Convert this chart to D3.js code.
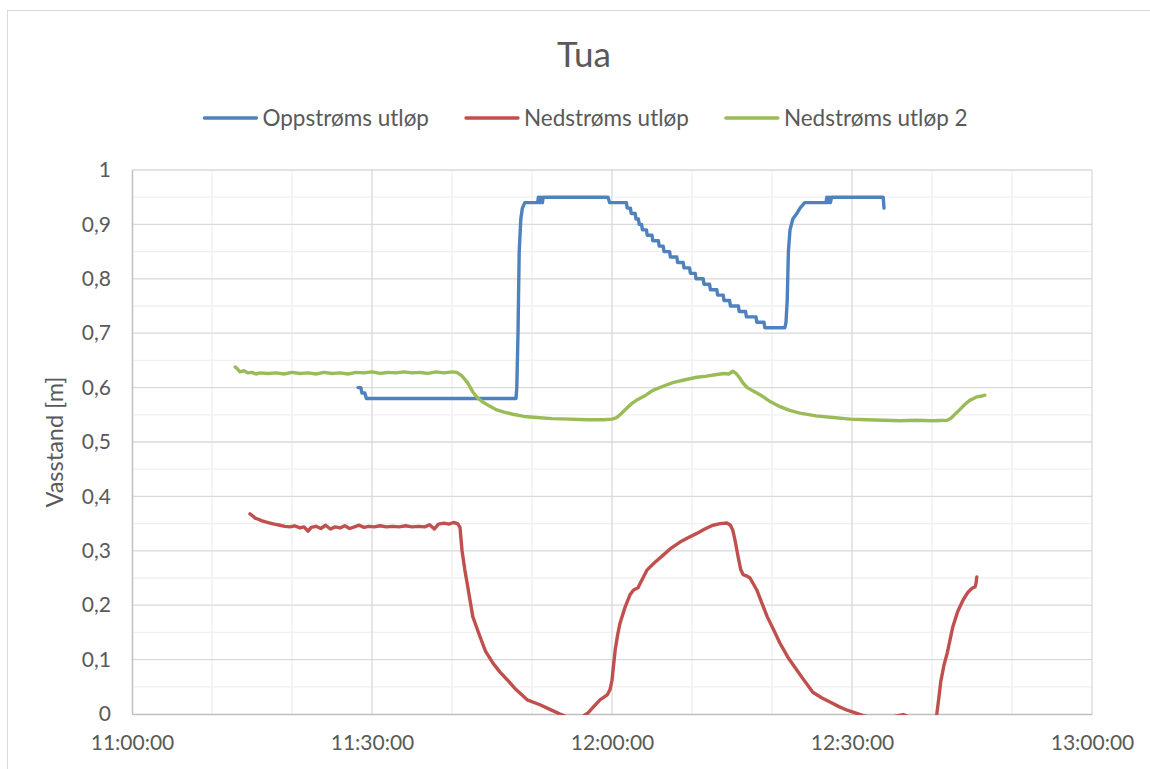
<!DOCTYPE html>
<html lang="no">
<head>
    <meta charset="UTF-8">
    <title>Tua</title>
    <script src="https://d3js.org/d3.v7.min.js"></script>
    <style>
        body {
            margin: 0;
            background: #fff;
        }
        svg text {
            font-family: Lato, "Open Sans", sans-serif;
            fill: #595959;
        }
        .tick text {
            font-size: 21px;
        }
        .legend text {
            font-size: 22.5px;
        }
    </style>
</head>
<body>
    <svg width="1150" height="769"></svg>
    <script>
        // Series: [minutes after 11:00:00, water level in m]
        const oppstroms = [
            [28.25, 0.60], [28.6, 0.60], [28.75, 0.59], [29.1, 0.59], [29.3, 0.58],
            [48.0, 0.58], [48.1, 0.60], [48.25, 0.70], [48.4, 0.85], [48.6, 0.91], [48.8, 0.93], [49.1, 0.94],
            [50.7, 0.94], [50.8, 0.95], [51.0, 0.94], [51.1, 0.95], [51.3, 0.94], [51.4, 0.95],
            [59.5, 0.95], [59.7, 0.94],
            [61.8, 0.94], [61.9, 0.93], [62.3, 0.93], [62.4, 0.92], [62.9, 0.92], [63.0, 0.91],
            [63.3, 0.91], [63.4, 0.90], [63.7, 0.90], [63.8, 0.89], [64.3, 0.89], [64.4, 0.88],
            [65.0, 0.88], [65.1, 0.87], [65.8, 0.87], [65.9, 0.86], [66.4, 0.86], [66.5, 0.85],
            [67.2, 0.85], [67.3, 0.84], [68.1, 0.84], [68.2, 0.83], [68.9, 0.83], [69.0, 0.82],
            [69.7, 0.82], [69.8, 0.81], [70.4, 0.81], [70.5, 0.80], [71.4, 0.80], [71.5, 0.79],
            [72.2, 0.79], [72.3, 0.78], [73.1, 0.78], [73.2, 0.77], [73.9, 0.77], [74.0, 0.76],
            [74.7, 0.76], [74.8, 0.75], [75.8, 0.75], [75.9, 0.74], [76.7, 0.74], [76.8, 0.73],
            [78.0, 0.73], [78.1, 0.72], [79.0, 0.72], [79.1, 0.71],
            [81.6, 0.71], [81.75, 0.72], [81.9, 0.76], [82.05, 0.85], [82.25, 0.89], [82.6, 0.91],
            [83.1, 0.92], [83.5, 0.93], [84.1, 0.94],
            [86.75, 0.94], [86.85, 0.95], [87.0, 0.94], [87.15, 0.95], [87.3, 0.94], [87.45, 0.95],
            [93.9, 0.95], [94.0, 0.93]
        ];

        const nedstroms = [
            [14.75, 0.368], [15.1, 0.364], [15.4, 0.360], [15.8, 0.358], [16.25, 0.355], [16.7, 0.353],
            [17.25, 0.351], [17.8, 0.349], [18.5, 0.347], [19.1, 0.345], [19.75, 0.344], [20.3, 0.346],
            [21.0, 0.342], [21.5, 0.344], [22.0, 0.336], [22.4, 0.343], [23.0, 0.345], [23.6, 0.341],
            [24.2, 0.347], [24.8, 0.340], [25.4, 0.344], [26.0, 0.342], [26.6, 0.346], [27.2, 0.341],
            [27.8, 0.344], [28.4, 0.347], [29.0, 0.343], [29.6, 0.345], [30.3, 0.344], [31.0, 0.346],
            [31.8, 0.344], [32.6, 0.345], [33.4, 0.344], [34.2, 0.346], [35.0, 0.344], [35.8, 0.345],
            [36.6, 0.344], [37.2, 0.348], [37.8, 0.340], [38.3, 0.349], [39.0, 0.351], [39.6, 0.349],
            [40.2, 0.352], [40.7, 0.350], [41.0, 0.343], [41.25, 0.301], [41.6, 0.265], [41.9, 0.240],
            [42.6, 0.179], [43.5, 0.142], [44.2, 0.115], [45.1, 0.094], [46.0, 0.077], [46.9, 0.063],
            [48.0, 0.045], [49.4, 0.026], [51.0, 0.017], [52.3, 0.008], [53.5, 0.0], [54.8, -0.008],
            [55.6, -0.010], [56.4, -0.004], [57.0, 0.002], [57.8, 0.015], [58.5, 0.026], [59.4, 0.035],
            [59.75, 0.045], [60.0, 0.062], [60.2, 0.090], [60.4, 0.118], [60.7, 0.145], [61.0, 0.167],
            [61.6, 0.195], [62.25, 0.219], [62.7, 0.228], [63.25, 0.232], [63.8, 0.248], [64.4, 0.265],
            [65.3, 0.278], [66.4, 0.292], [67.4, 0.305], [68.5, 0.316], [69.5, 0.324], [70.6, 0.332],
            [71.6, 0.340], [72.6, 0.347], [73.5, 0.350], [74.4, 0.351], [74.8, 0.347], [75.1, 0.338],
            [75.4, 0.318], [75.75, 0.290], [76.1, 0.265], [76.4, 0.256], [76.8, 0.254], [77.25, 0.250],
            [78.1, 0.228], [78.7, 0.205], [79.4, 0.179], [80.2, 0.155], [81.0, 0.130], [82.0, 0.104],
            [83.1, 0.081], [84.1, 0.060], [85.1, 0.040], [86.2, 0.030], [87.25, 0.022], [88.3, 0.014],
            [89.4, 0.007], [90.4, 0.002], [91.4, -0.003], [93.5, -0.010], [95.2, -0.005], [96.4, -0.001],
            [97.5, -0.008], [98.5, -0.020], [99.8, -0.030], [100.3, -0.020], [100.6, 0.0], [100.9, 0.035],
            [101.1, 0.060], [101.5, 0.090], [101.9, 0.112], [102.6, 0.160], [103.2, 0.188], [103.9, 0.210],
            [104.5, 0.224], [105.0, 0.231], [105.4, 0.234], [105.5, 0.240], [105.6, 0.252]
        ];

        const nedstroms2 = [
            [12.9, 0.638], [13.2, 0.634], [13.5, 0.629], [14.0, 0.631], [14.5, 0.627], [15.0, 0.628],
            [15.5, 0.625], [16.0, 0.627], [17.0, 0.626], [18.0, 0.627], [19.0, 0.625], [20.0, 0.628],
            [21.0, 0.626], [22.0, 0.627], [23.0, 0.625], [24.0, 0.628], [25.0, 0.626], [26.0, 0.627],
            [27.0, 0.625], [28.0, 0.628], [29.0, 0.627], [30.0, 0.629], [31.0, 0.626], [32.0, 0.628],
            [33.0, 0.627], [34.0, 0.629], [35.0, 0.627], [36.0, 0.628], [37.0, 0.626], [38.0, 0.629],
            [39.0, 0.627], [40.0, 0.629], [40.6, 0.628], [41.2, 0.622], [41.9, 0.610], [42.6, 0.592],
            [43.2, 0.581], [43.9, 0.573], [44.7, 0.566], [45.6, 0.559], [46.5, 0.555], [47.6, 0.551],
            [49.0, 0.547], [50.6, 0.545], [52.5, 0.543], [54.7, 0.542], [57.0, 0.541], [59.0, 0.541],
            [60.0, 0.542], [60.6, 0.545], [61.2, 0.553], [61.9, 0.563], [62.5, 0.571], [63.1, 0.577],
            [64.0, 0.584], [65.1, 0.595], [66.3, 0.602], [67.6, 0.609], [69.0, 0.614], [70.6, 0.619],
            [71.8, 0.621], [73.1, 0.624], [74.0, 0.626], [74.6, 0.625], [75.1, 0.630], [75.5, 0.626],
            [75.9, 0.619], [76.4, 0.608], [76.9, 0.600], [77.6, 0.594], [78.5, 0.587], [79.6, 0.576],
            [81.0, 0.565], [82.2, 0.558], [83.5, 0.553], [85.5, 0.548], [87.6, 0.545], [89.8, 0.542],
            [91.9, 0.541], [94.0, 0.540], [96.0, 0.539], [98.0, 0.540], [100.0, 0.539], [101.9, 0.540],
            [102.3, 0.543], [102.6, 0.547], [103.0, 0.553], [103.5, 0.560], [104.1, 0.569], [104.75, 0.577],
            [105.2, 0.580], [105.6, 0.583], [106.1, 0.584], [106.6, 0.586]
        ];

        const seriesNames = ["Oppstrøms utløp", "Nedstrøms utløp", "Nedstrøms utløp 2"];
        const seriesColors = ["#4f81bd", "#c0504d", "#9bbb59"];

        const xTickMinutes = [0, 30, 60, 90, 120];
        const xTickLabels = ["11:00:00", "11:30:00", "12:00:00", "12:30:00", "13:00:00"];
        const xMinorMinutes = [10, 20, 40, 50, 70, 80, 100, 110];
        const yTicks = [0, 0.1, 0.2, 0.3, 0.4, 0.5, 0.6, 0.7, 0.8, 0.9, 1];
        const yTickLabels = ["0", "0,1", "0,2", "0,3", "0,4", "0,5", "0,6", "0,7", "0,8", "0,9", "1"];
        const yMinor = [0.05, 0.15, 0.25, 0.35, 0.45, 0.55, 0.65, 0.75, 0.85, 0.95];

        const margin = {top: 170, right: 58, bottom: 55, left: 132},
              width = 1150 - margin.left - margin.right,
              height = 769 - margin.top - margin.bottom;

        const start = new Date(2017, 0, 1, 11, 0, 0);
        const toDate = m => new Date(start.getTime() + m * 60000);

        const svg = d3.select("svg");

        // chart area border
        svg.append("rect")
           .attr("x", 7.5).attr("y", 10.5)
           .attr("width", 1160).attr("height", 780)
           .attr("fill", "none")
           .attr("stroke", "#d9d9d9");

        const g = svg.append("g")
                     .attr("transform", `translate(${margin.left},${margin.top})`);

        const x = d3.scaleTime()
                    .domain([toDate(0), toDate(120)])
                    .range([0, width]);

        const y = d3.scaleLinear()
                    .domain([0, 1])
                    .range([height, 0]);

        // minor grid
        g.selectAll(".xminor").data(xMinorMinutes).enter().append("line")
         .attr("x1", d => x(toDate(d))).attr("x2", d => x(toDate(d)))
         .attr("y1", 0).attr("y2", height)
         .attr("stroke", "#f0f0f0").attr("stroke-width", 1.3);
        g.selectAll(".yminor").data(yMinor).enter().append("line")
         .attr("x1", 0).attr("x2", width)
         .attr("y1", d => y(d)).attr("y2", d => y(d))
         .attr("stroke", "#f0f0f0").attr("stroke-width", 1.3);

        // major grid
        g.selectAll(".xmajor").data(xTickMinutes.slice(1)).enter().append("line")
         .attr("x1", d => x(toDate(d))).attr("x2", d => x(toDate(d)))
         .attr("y1", 0).attr("y2", height)
         .attr("stroke", "#d9d9d9").attr("stroke-width", 1.3);
        g.selectAll(".ymajor").data(yTicks.slice(1)).enter().append("line")
         .attr("x1", 0).attr("x2", width)
         .attr("y1", d => y(d)).attr("y2", d => y(d))
         .attr("stroke", "#d9d9d9").attr("stroke-width", 1.3);

        // axes
        const xAxis = g.append("g")
         .attr("transform", `translate(0,${height})`)
         .call(d3.axisBottom(x)
                 .tickValues(xTickMinutes.map(toDate))
                 .tickFormat((d, i) => xTickLabels[i])
                 .tickSize(0)
                 .tickPadding(21));
        xAxis.select(".domain").attr("stroke", "#bfbfbf").attr("stroke-width", 1.5);

        const yAxis = g.append("g")
         .call(d3.axisLeft(y)
                 .tickValues(yTicks)
                 .tickFormat((d, i) => yTickLabels[i])
                 .tickSize(0)
                 .tickPadding(21));
        yAxis.select(".domain").attr("stroke", "#bfbfbf").attr("stroke-width", 1.5);
        g.selectAll(".tick text").attr("font-family", null).attr("font-size", null).attr("fill", "#595959");

        // y axis label
        svg.append("text")
           .attr("transform", "rotate(-90)")
           .attr("x", -(margin.top + height / 2))
           .attr("y", 63)
           .style("text-anchor", "middle")
           .style("font-size", "23.5px")
           .text("Vasstand [m]");

        // lines, clipped to the plot area
        g.append("clipPath").attr("id", "plot-clip")
         .append("rect")
         .attr("x", 0).attr("y", -3)
         .attr("width", width).attr("height", height + 4);

        const line = d3.line()
                       .x(d => x(toDate(d[0])))
                       .y(d => y(d[1]));

        const allSeries = [oppstroms, nedstroms, nedstroms2];
        g.append("g").attr("clip-path", "url(#plot-clip)")
         .selectAll("path").data(allSeries).enter().append("path")
         .attr("d", line)
         .attr("fill", "none")
         .attr("stroke", (d, i) => seriesColors[i])
         .attr("stroke-width", 3.4)
         .attr("stroke-linejoin", "round")
         .attr("stroke-linecap", "round");

        // title
        svg.append("text")
           .attr("x", 584)
           .attr("y", 67)
           .style("text-anchor", "middle")
           .style("font-size", "35px")
           .text("Tua");

        // legend, centred under the title
        const legend = svg.append("g").attr("class", "legend");
        const items = legend.selectAll("g").data(seriesNames).enter().append("g");
        items.append("line")
             .attr("x1", 0).attr("x2", 52)
             .attr("y1", 0).attr("y2", 0)
             .attr("stroke", (d, i) => seriesColors[i])
             .attr("stroke-width", 3.4)
             .attr("stroke-linecap", "round");
        items.append("text")
             .attr("x", 58)
             .attr("dy", "0.35em")
             .text(d => d);

        let offset = 0;
        const widths = [];
        items.each(function() {
            const w = 58 + d3.select(this).select("text").node().getComputedTextLength();
            widths.push(w);
        });
        const gap = 37;
        const total = d3.sum(widths) + gap * (widths.length - 1);
        items.attr("transform", (d, i) => {
            const t = `translate(${offset},0)`;
            offset += widths[i] + gap;
            return t;
        });
        legend.attr("transform", `translate(${586 - total / 2},118)`);
    </script>
</body>
</html>
